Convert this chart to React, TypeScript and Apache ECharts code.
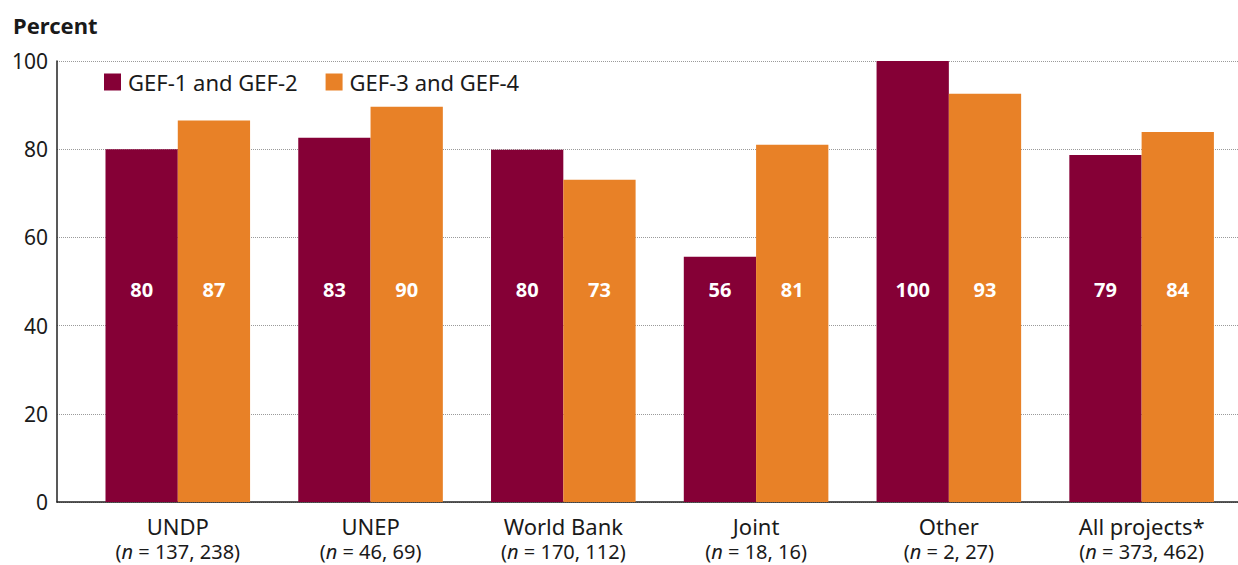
import React, { useEffect, useRef } from "react";
import * as echarts from "echarts";

const categories = ["UNDP", "UNEP", "World Bank", "Joint", "Other", "All projects*"];
const sampleSizes = ["137, 238", "46, 69", "170, 112", "18, 16", "2, 27", "373, 462"];
const gef12 = [80, 82.6, 79.9, 55.6, 100, 78.7];
const gef34 = [86.5, 89.6, 73.1, 81.0, 92.6, 83.9];
const seriesNames = ["GEF-1 and GEF-2", "GEF-3 and GEF-4"];
const yTicks = [0, 20, 40, 60, 80, 100];

const FONT = "'Noto Sans', sans-serif";
const TEXT = "#1a1a1a";
const MAROON = "#850036";
const ORANGE = "#E88127";

export default function App() {
  const ref = useRef<HTMLDivElement>(null);
  useEffect(() => {
    if (!ref.current) return;
    const chart = echarts.init(ref.current, null, { renderer: "svg" });
    const barLabel = {
      show: true,
      position: "insideBottom",
      distance: 203,
      color: "#ffffff",
      fontWeight: "bold",
      fontSize: 20,
      fontFamily: FONT,
      formatter: (p: any) => String(Math.round(p.value)),
    };
    chart.setOption({
      animation: false,
      textStyle: { fontFamily: FONT, color: TEXT },
      title: {
        text: "Percent",
        left: 13,
        top: 14,
        padding: 0,
        textStyle: { fontSize: 22, fontWeight: "bold", color: TEXT, fontFamily: FONT },
      },
      legend: {
        left: 104,
        top: 71,
        padding: 0,
        icon: "rect",
        itemWidth: 17,
        itemHeight: 17,
        itemGap: 28,
        data: seriesNames,
        textStyle: { fontSize: 22, color: TEXT, fontFamily: FONT, padding: [0, 0, 0, 2] },
      },
      grid: [
        { left: 57, right: 0, top: 61, height: 441 },
        { left: 81.4, width: 1159.2, top: 61, height: 441 },
      ],
      xAxis: [
        {
          type: "value",
          gridIndex: 0,
          min: 0,
          max: 1,
          axisLine: { show: true, lineStyle: { color: "#222", width: 1.5 } },
          axisTick: { show: false },
          axisLabel: { show: false },
          splitLine: { show: false },
        },
        {
          type: "category",
          gridIndex: 1,
          data: categories,
          axisLine: { show: false },
          axisTick: { show: false },
          axisLabel: {
            margin: 10,
            interval: 0,
            formatter: (v: string, i: number) =>
              `{a|${v}}\n{b|(}{i|n}{b| = ${sampleSizes[i]})}`,
            rich: {
              a: { fontSize: 22, color: TEXT, fontFamily: FONT, lineHeight: 27 },
              b: { fontSize: 20, color: TEXT, fontFamily: FONT, lineHeight: 25 },
              i: { fontSize: 20, color: TEXT, fontFamily: FONT, fontStyle: "italic", lineHeight: 25 },
            },
          },
        },
      ],
      yAxis: [
        {
          type: "value",
          gridIndex: 0,
          min: 0,
          max: 100,
          interval: 20,
          axisLine: { show: true, lineStyle: { color: "#222", width: 1.5 } },
          axisTick: { show: false },
          axisLabel: {
            fontSize: 21,
            color: TEXT,
            fontFamily: FONT,
            margin: 9,
            formatter: (v: number) => (yTicks.includes(v) ? String(v) : ""),
          },
          splitLine: { show: true, lineStyle: { color: "#9a9a9a", type: "dotted", width: 1 } },
        },
        {
          type: "value",
          gridIndex: 1,
          min: 0,
          max: 100,
          interval: 20,
          show: false,
        },
      ],
      series: [
        {
          name: seriesNames[0],
          type: "bar",
          xAxisIndex: 1,
          yAxisIndex: 1,
          data: gef12,
          barWidth: "37.5%",
          barGap: "0%",
          itemStyle: { color: MAROON },
          label: barLabel,
        },
        {
          name: seriesNames[1],
          type: "bar",
          xAxisIndex: 1,
          yAxisIndex: 1,
          data: gef34,
          barWidth: "37.5%",
          barGap: "0%",
          itemStyle: { color: ORANGE },
          label: barLabel,
        },
      ],
    });
    return () => chart.dispose();
  }, []);
  return (
    <div
      ref={ref}
      style={{ position: "fixed", left: 0, top: 0, width: 1238, height: 565, background: "#fff" }}
    />
  );
}
